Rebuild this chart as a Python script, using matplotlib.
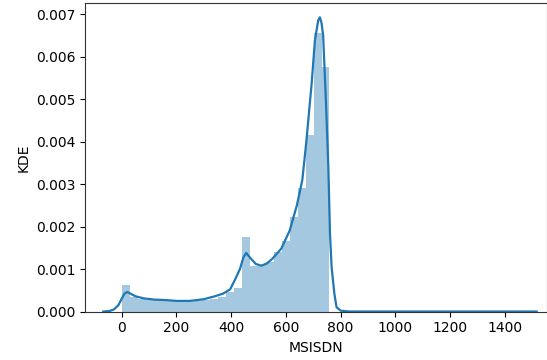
#!/usr/bin/env python3
"""
Distribution of MSISDN values: density histogram with KDE overlay
"""

import numpy as np
import matplotlib
matplotlib.use('Agg')
import matplotlib.pyplot as plt

# ---------------------------------------------------------------------------
# DATA
# ---------------------------------------------------------------------------
#- Histogram: bins start at 0, constant width
bin_start = 0.0
bin_width = 29.2
bin_heights = [0.00062, 0.00035, 0.00030, 0.00028, 0.00027, 0.00026,
               0.00025, 0.00024, 0.00025, 0.00026, 0.00028, 0.00030,
               0.00033, 0.00047, 0.00055, 0.00175, 0.00107, 0.00109,
               0.00117, 0.00140, 0.00166, 0.00222, 0.00290, 0.00415,
               0.00656, 0.00576]

#- KDE curve
kde_x = [-67, -45, -28, -12, 0, 10, 21, 35, 50, 80, 120, 160, 200, 250,
         300, 341, 370, 396, 414, 432, 445, 455, 470, 490, 510, 530, 550,
         583, 614, 640, 660, 675, 694, 706, 718, 724, 730, 736, 746, 755,
         761, 767, 777, 785, 800, 830, 1516]
kde_y = [0.0, 0.00001, 0.00005, 0.00015, 0.00030, 0.00042, 0.00046,
         0.00041, 0.00036, 0.00031, 0.00028, 0.00027, 0.00025, 0.00025,
         0.00029, 0.00036, 0.00042, 0.00052, 0.00075, 0.00100, 0.00128,
         0.00138, 0.00126, 0.00112, 0.00108, 0.00113, 0.00124, 0.00148,
         0.00191, 0.00250, 0.00310, 0.00403, 0.00537, 0.00639, 0.00686,
         0.00693, 0.00680, 0.00650, 0.00498, 0.00340, 0.00183, 0.00104,
         0.00042, 0.00010, 0.00002, 0.0, 0.0]

x_label = 'MSISDN'
y_label = 'KDE'

# ---------------------------------------------------------------------------
# PLOT
# ---------------------------------------------------------------------------
def main():
    fig = plt.figure(figsize=(5.47, 3.6), dpi=100)
    ax = fig.add_axes([0.1554, 0.1347, 0.8437, 0.8561])

    left_edges = bin_start + bin_width*np.arange(len(bin_heights))
    ax.bar(left_edges, bin_heights, width=bin_width, align='edge',
           color='#1f77b4', alpha=0.4, linewidth=0)
    ax.plot(kde_x, kde_y, color='#1f77b4', lw=1.6)

    ax.set_xlim(-134, 1552)
    ax.set_ylim(0, 0.00726)
    ax.set_xticks([0, 200, 400, 600, 800, 1000, 1200, 1400])
    ax.set_yticks(np.arange(0, 0.0071, 0.001))
    ax.yaxis.set_major_formatter(matplotlib.ticker.FormatStrFormatter('%.3f'))

    ax.set_xlabel(x_label)
    ax.set_ylabel(y_label)
    for s in ax.spines.values():
        s.set_color('#333333')

    fig.savefig('out.png', dpi=100)

if __name__ == "__main__":
    main()
